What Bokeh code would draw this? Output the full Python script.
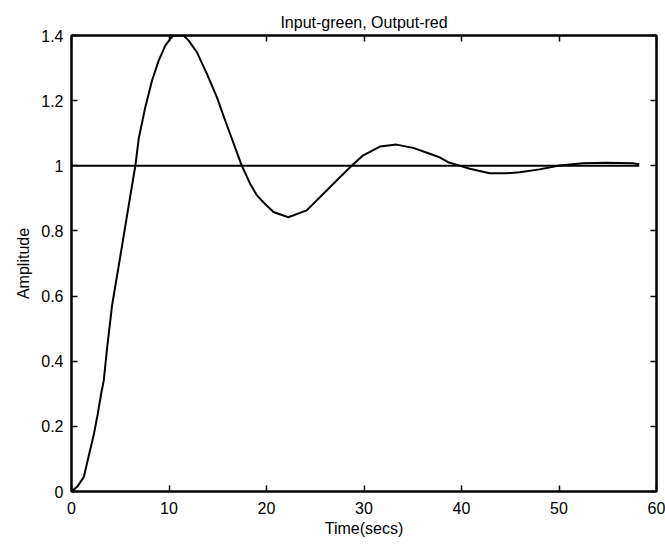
from bokeh.plotting import figure
from bokeh.models import Range1d, FixedTicker, LinearAxis
from bokeh.embed import file_html
from bokeh.resources import INLINE

# Output (step response)
time_out = [0, 0.6, 1.26, 1.77, 2.29, 2.7, 3.04, 3.31, 3.65, 4.16, 4.85, 5.53,
            6.21, 6.55, 6.89, 7.57, 8.26, 8.94, 9.62, 10.13, 10.47, 11.0, 11.5,
            12.0, 12.86, 13.89, 14.91, 15.76, 16.45, 17.47, 18.32, 19.0, 19.68,
            20.71, 22.24, 24.12, 26.17, 27.53, 28.73, 29.92, 31.63, 33.33, 35.04,
            36.75, 37.77, 38.62, 39.3, 40.84, 42.89, 44.6, 45.96, 48.0, 50.05,
            52.44, 54.83, 57.55, 58.23]
amp_out = [0, 0.015, 0.044, 0.11, 0.175, 0.239, 0.3, 0.341, 0.44, 0.571, 0.694, 0.817,
           0.94, 1.0, 1.083, 1.18, 1.262, 1.323, 1.369, 1.39, 1.40, 1.40, 1.40,
           1.385, 1.349, 1.282, 1.211, 1.139, 1.083, 1.0, 0.945, 0.91, 0.888,
           0.858, 0.842, 0.863, 0.924, 0.965, 1.0, 1.032, 1.059, 1.065, 1.055,
           1.037, 1.026, 1.011, 1.005, 0.991, 0.977, 0.977, 0.98, 0.989, 1.001,
           1.008, 1.009, 1.008, 1.005]

# Input (unit step)
time_in = [0, 58.23]
amp_in = [1, 1]

x_ticks = [0, 10, 20, 30, 40, 50, 60]
y_ticks = [0, 0.2, 0.4, 0.6, 0.8, 1, 1.2, 1.4]
y_tick_labels = ["0", "0.2", "0.4", "0.6", "0.8", "1", "1.2", "1.4"]

FONT = "Liberation Sans"

p = figure(width=665, height=544, output_backend="svg", toolbar_location=None,
           x_range=Range1d(0, 60), y_range=Range1d(0, 1.4),
           min_border_left=71, min_border_right=9, min_border_top=35, min_border_bottom=53,
           title="Input-green, Output-red")

p.title.text_font = FONT
p.title.text_font_size = "16px"
p.title.text_font_style = "normal"
p.title.align = "center"
p.title.text_color = "black"

p.grid.visible = False
p.outline_line_color = "black"
p.outline_line_width = 2

p.line(time_in, amp_in, line_color="black", line_width=2)
p.line(time_out, amp_out, line_color="black", line_width=2, line_join="round")

def style(ax):
    ax.axis_line_color = "black"
    ax.axis_line_width = 2
    ax.major_tick_in = 6
    ax.major_tick_out = 0
    ax.major_tick_line_color = "black"
    ax.major_tick_line_width = 1.5
    ax.minor_tick_line_color = None
    ax.major_label_text_font = FONT
    ax.major_label_text_font_size = "16px"
    ax.major_label_text_color = "black"
    ax.axis_label_text_font = FONT
    ax.axis_label_text_font_size = "16px"
    ax.axis_label_text_font_style = "normal"
    ax.axis_label_text_color = "black"

xa = p.xaxis[0]
xa.ticker = FixedTicker(ticks=x_ticks)
xa.axis_label = "Time(secs)"
style(xa)
xa.major_label_standoff = 10
xa.axis_label_standoff = 3

ya = p.yaxis[0]
ya.ticker = FixedTicker(ticks=y_ticks)
ya.major_label_overrides = {t: s for t, s in zip(y_ticks, y_tick_labels)}
ya.axis_label = "Amplitude"
style(ya)
ya.major_label_standoff = 8
ya.axis_label_standoff = 6

top = LinearAxis(ticker=FixedTicker(ticks=x_ticks))
style(top)
top.major_label_text_color = None
top.major_label_standoff = 0
p.add_layout(top, "above")

right = LinearAxis(ticker=FixedTicker(ticks=y_ticks))
style(right)
right.major_label_text_color = None
right.major_label_standoff = 0
p.add_layout(right, "right")

open("out.html", "w").write(file_html(p, INLINE))
